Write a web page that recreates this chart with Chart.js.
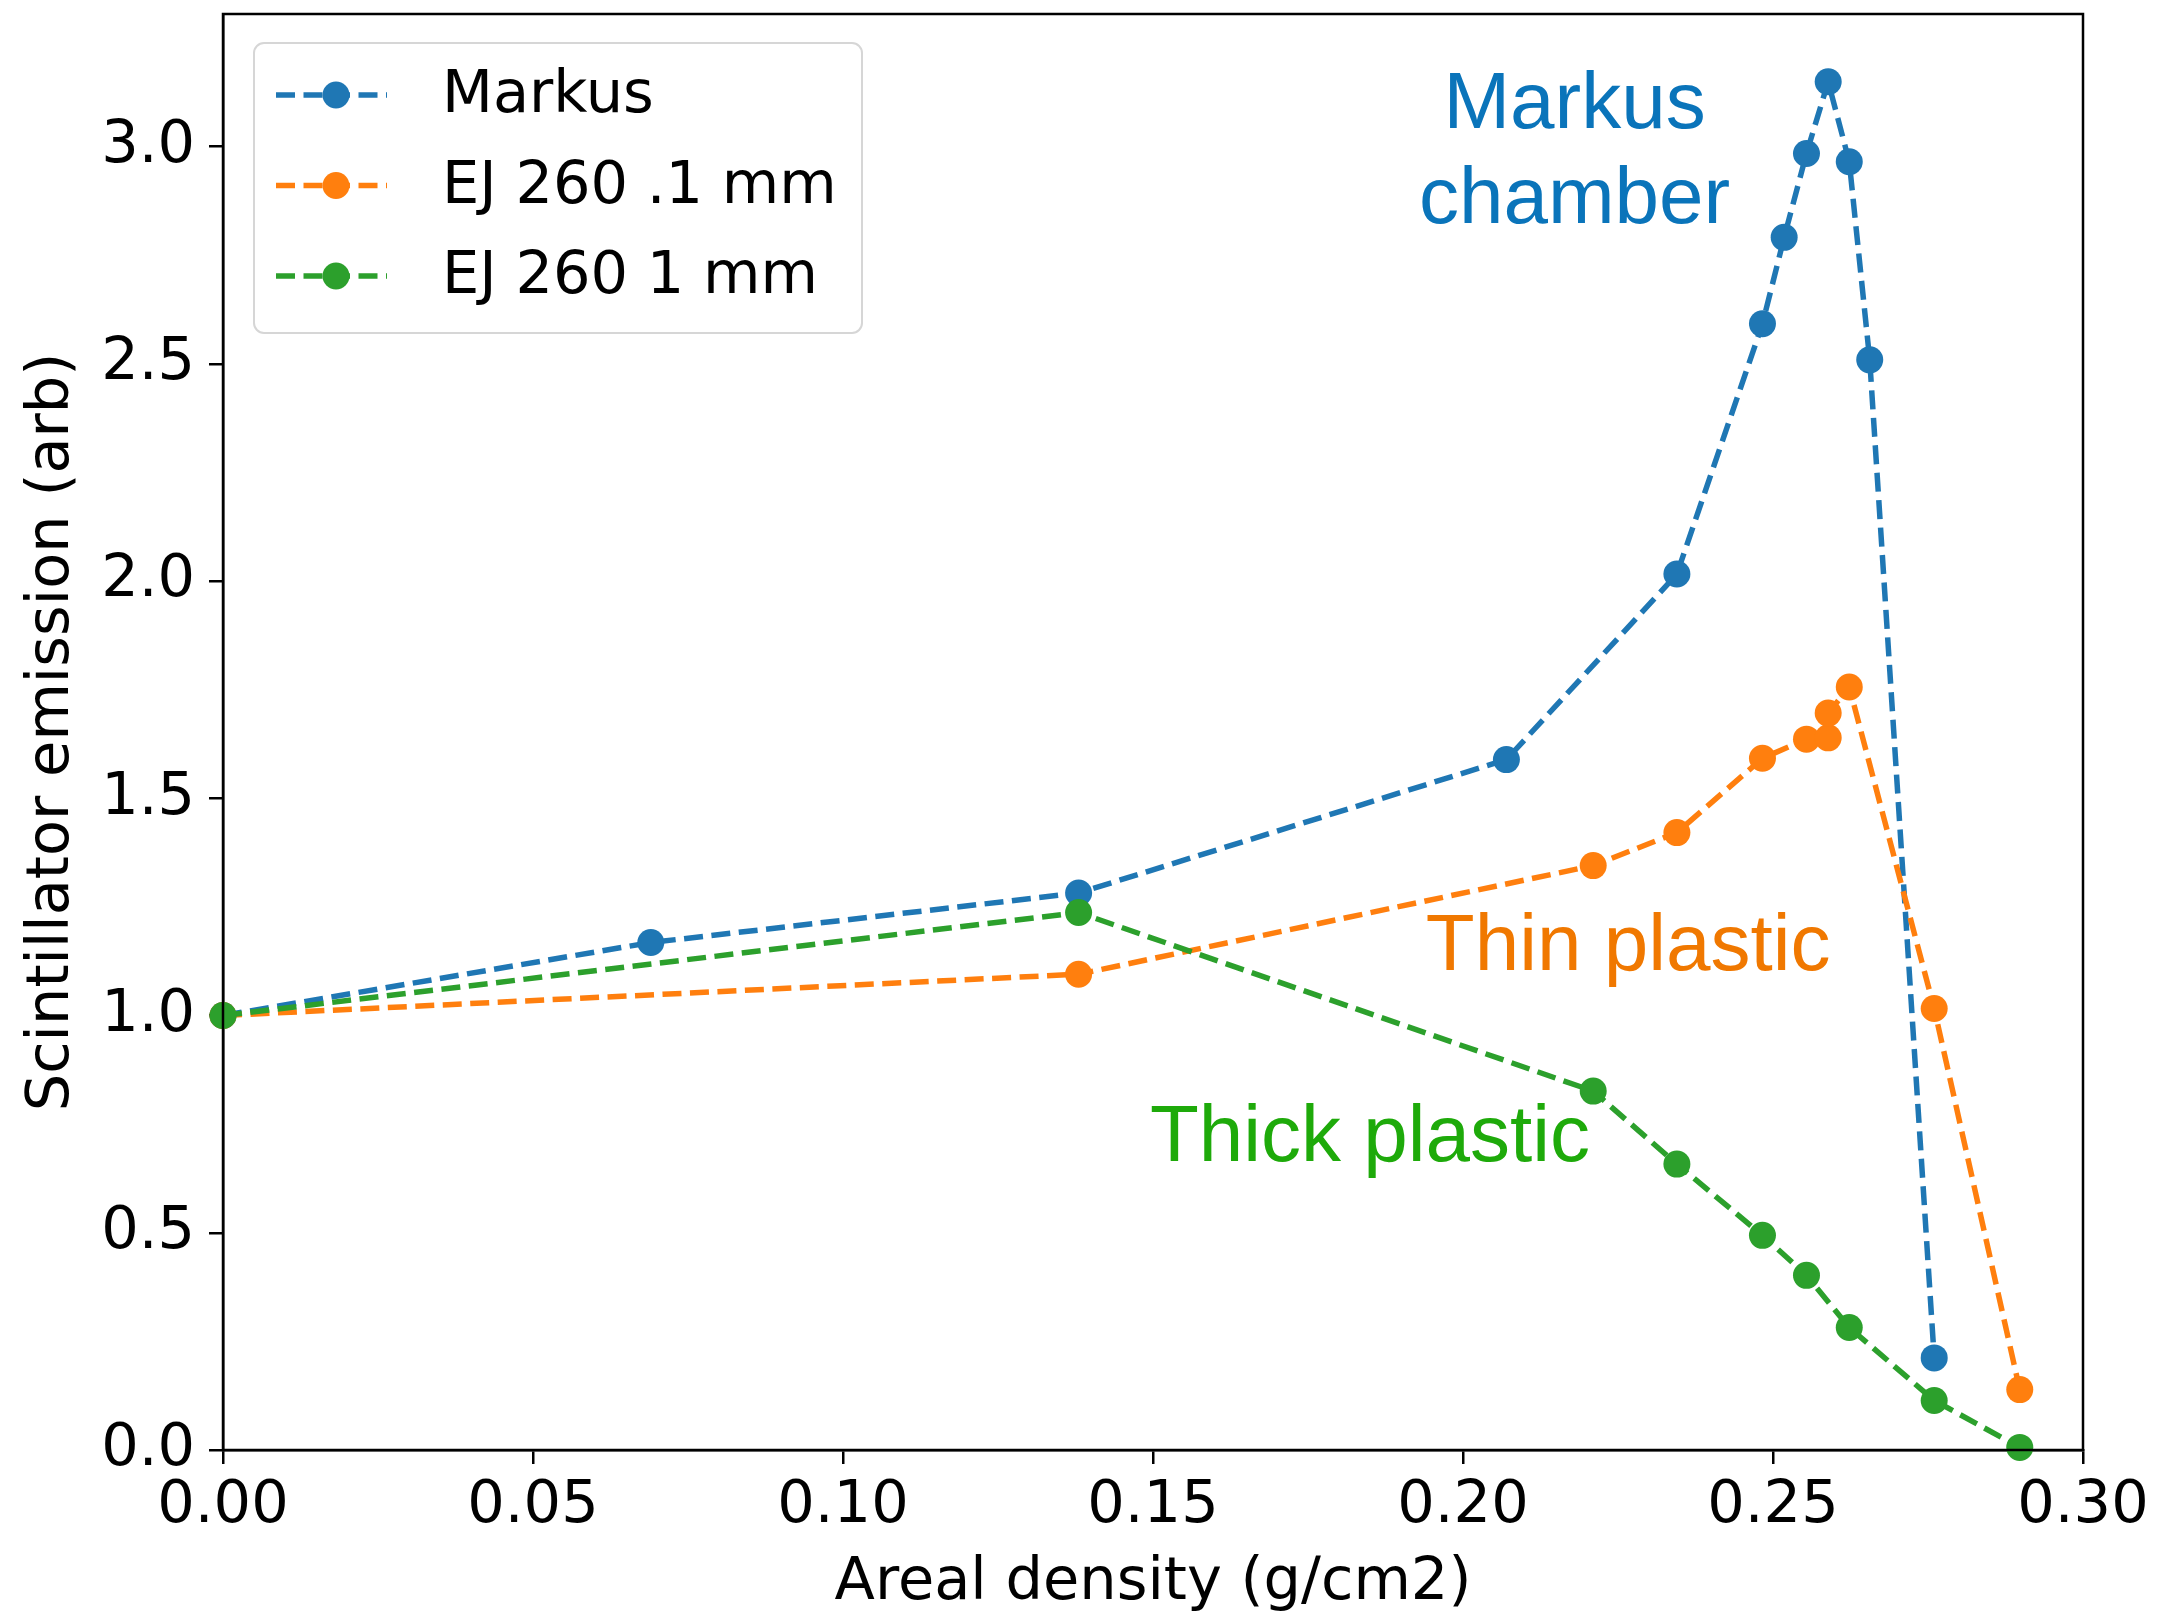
<!DOCTYPE html>
<html><head><meta charset="utf-8">
<script src="https://cdn.jsdelivr.net/npm/chart.js@4.4.1/dist/chart.umd.min.js"></script>
<style>html,body{margin:0;padding:0;background:#fff;} #wrap{width:2159px;height:1613px;position:relative;}</style>
</head><body><div id="wrap"><canvas id="c" width="2159" height="1613"></canvas></div>
<script>
// ---- data ----
const markusX = [0, 0.069, 0.138, 0.207, 0.2345, 0.2483, 0.2518, 0.2554, 0.2589, 0.2623, 0.2656, 0.276];
const markusY = [1.0, 1.168, 1.282, 1.589, 2.016, 2.592, 2.791, 2.984, 3.149, 2.965, 2.509, 0.212];
const thinX = [0, 0.138, 0.221, 0.2345, 0.2483, 0.2554, 0.2589, 0.2589, 0.2623, 0.276, 0.2898];
const thinY = [1.0, 1.095, 1.345, 1.421, 1.592, 1.636, 1.639, 1.696, 1.756, 1.016, 0.139];
const thickX = [0, 0.138, 0.221, 0.2345, 0.2483, 0.2554, 0.2623, 0.276, 0.2898];
const thickY = [1.0, 1.237, 0.826, 0.658, 0.494, 0.402, 0.282, 0.114, 0.006];
const seriesNames = ['Markus', 'EJ 260 .1 mm', 'EJ 260 1 mm'];
const seriesColors = ['#1f77b4', '#ff7f0e', '#2ca02c'];
const xTicks = [0, 0.05, 0.10, 0.15, 0.20, 0.25, 0.30];
const yTicks = [0, 0.5, 1.0, 1.5, 2.0, 2.5, 3.0];
const xTitle = 'Areal density (g/cm2)';
const yTitle = 'Scintillator emission (arb)';
const notes = [
  {lines: ['Markus', 'chamber'], x: 0.218, y: 3.042, color: '#0a74ba', align: 'center'},
  {lines: ['Thin plastic'], x: 0.194, y: 1.105, color: '#f07800', align: 'left'},
  {lines: ['Thick plastic'], x: 0.1495, y: 0.664, color: '#1eaa0a', align: 'left'}
];

const zip = (xs, ys) => xs.map((x, i) => ({x, y: ys[i]}));
const LW = 5.5, DASH = [19, 8.5], R = 13.5;
const FONT = 'DejaVu Sans';
const FS = 59;

function ds(i, xs, ys, order) {
  return {
    label: seriesNames[i], data: zip(xs, ys), showLine: true,
    borderColor: seriesColors[i], backgroundColor: seriesColors[i],
    pointBackgroundColor: seriesColors[i], pointBorderWidth: 0,
    pointRadius: R, pointHoverRadius: R, borderWidth: LW, borderDash: DASH,
    order: order, clip: false
  };
}

const framePlugin = {
  id: 'frame',
  afterDatasetsDraw(chart) {
    const {ctx, chartArea: a} = chart;
    ctx.save();
    ctx.strokeStyle = '#000'; ctx.lineWidth = 2.5;
    ctx.strokeRect(a.left, a.top, a.right - a.left, a.bottom - a.top);
    ctx.restore();
  }
};

const notesPlugin = {
  id: 'notes',
  afterDatasetsDraw(chart) {
    const {ctx, scales} = chart;
    ctx.save();
    ctx.font = '80px "Liberation Sans", Arial, sans-serif';
    ctx.textBaseline = 'alphabetic';
    notes.forEach(n => {
      const px = scales.x.getPixelForValue(n.x);
      const py = scales.y.getPixelForValue(n.y);
      ctx.fillStyle = n.color; ctx.textAlign = n.align;
      n.lines.forEach((t, k) => ctx.fillText(t, px, py + k * 95));
    });
    ctx.restore();
  }
};

const legendPlugin = {
  id: 'mlegend',
  afterDraw(chart) {
    const {ctx, chartArea: a} = chart;
    const x0 = a.left + 31, y0 = a.top + 29, w = 608, h = 290, r = 10;
    ctx.save();
    ctx.beginPath();
    ctx.roundRect(x0, y0, w, h, r);
    ctx.fillStyle = 'rgba(255,255,255,0.8)'; ctx.fill();
    ctx.strokeStyle = '#d6d6d6'; ctx.lineWidth = 2; ctx.stroke();
    chart.data.datasets.forEach((d, i) => {
      const cy = y0 + 52 + i * 90.5;
      ctx.strokeStyle = d.borderColor; ctx.lineWidth = LW; ctx.setLineDash(DASH);
      ctx.beginPath(); ctx.moveTo(x0 + 22, cy); ctx.lineTo(x0 + 133, cy); ctx.stroke();
      ctx.setLineDash([]);
      ctx.fillStyle = d.borderColor;
      ctx.beginPath(); ctx.arc(x0 + 82, cy, R, 0, Math.PI * 2); ctx.fill();
      ctx.fillStyle = '#000'; ctx.font = FS + 'px "DejaVu Sans"';
      ctx.textAlign = 'left'; ctx.textBaseline = 'middle';
      ctx.fillText(d.label, x0 + 188, cy + 2);
    });
    ctx.restore();
  }
};

new Chart(document.getElementById('c'), {
  type: 'scatter',
  data: { datasets: [ds(0, markusX, markusY, 3), ds(1, thinX, thinY, 2), ds(2, thickX, thickY, 1)] },
  options: {
    responsive: false, animation: false, devicePixelRatio: 1,
    layout: { padding: { left: 0, right: 76, top: 14, bottom: 0 } },
    plugins: { legend: { display: false }, tooltip: { enabled: false } },
    scales: {
      x: {
        type: 'linear', min: 0, max: 0.30,
        afterBuildTicks: s => { s.ticks = xTicks.map(v => ({value: v})); },
        afterFit: s => { s.height = 163; s.paddingLeft = 0; s.paddingRight = 0; },
        ticks: { color: '#000', font: {family: FONT, size: FS}, padding: 7, maxRotation: 0,
                 callback: v => Number(v).toFixed(2) },
        grid: { drawOnChartArea: false, drawTicks: true, tickLength: 14, color: '#000', lineWidth: 2.5 },
        border: { display: true, color: '#000', width: 2.5 },
        title: { display: true, text: xTitle, color: '#000', font: {family: FONT, size: FS, lineHeight: 1.0}, padding: {top: 0, bottom: 0} }
      },
      y: {
        type: 'linear', min: 0, max: 3.305,
        afterBuildTicks: s => { s.ticks = yTicks.map(v => ({value: v})); },
        afterFit: s => { s.width = 223; s.paddingTop = 0; s.paddingBottom = 0; },
        ticks: { color: '#000', font: {family: FONT, size: FS}, padding: 14,
                 callback: v => Number(v).toFixed(1) },
        grid: { drawOnChartArea: false, drawTicks: true, tickLength: 14, color: '#000', lineWidth: 2.5 },
        border: { display: true, color: '#000', width: 2.5 },
        title: { display: true, text: yTitle, color: '#000', font: {family: FONT, size: FS}, padding: {top: 17, bottom: 0} }
      }
    }
  },
  plugins: [framePlugin, notesPlugin, legendPlugin]
});
</script></body></html>
